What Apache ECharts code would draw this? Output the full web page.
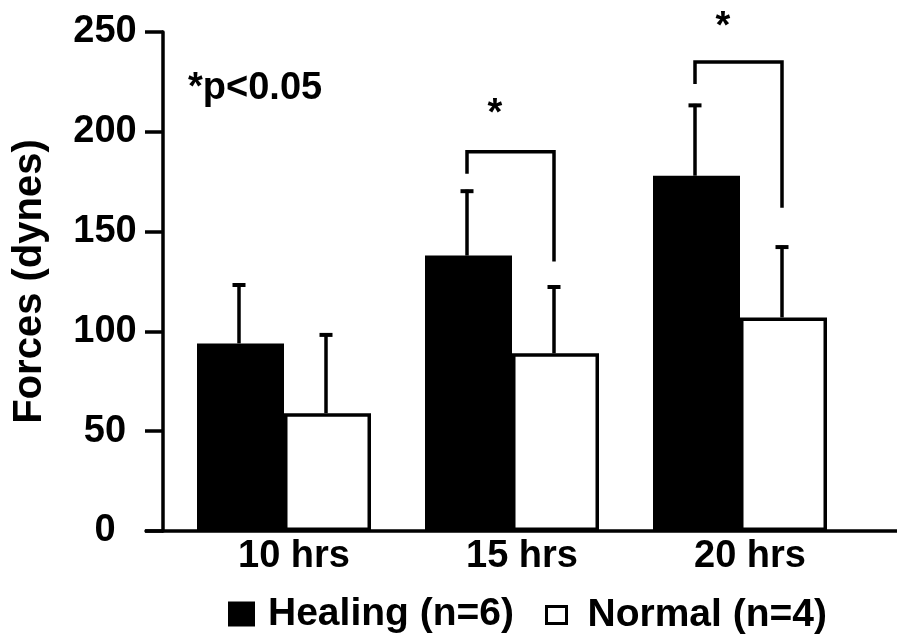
<!DOCTYPE html>
<html>
<head>
<meta charset="utf-8">
<script src="https://cdn.jsdelivr.net/npm/echarts@6/dist/echarts.min.js"></script>
<style>
html,body{margin:0;padding:0;background:#fff;}
#chart{width:897px;height:635px;}
</style>
</head>
<body>
<div id="chart"></div>
<script>
var categories = ['10 hrs', '15 hrs', '20 hrs'];
var healingMean = [94, 138, 178];
var healingUpper = [124, 171, 214];
var normalMean = [59, 89, 107];
var normalUpper = [99, 123, 143];
// bracket: [category index, left end value, top value, right end value]
var brackets = [[1, 179, 190, 135], [2, 224, 235, 162]];
// significance stars: [category index, value]
var stars = [[1, 212], [2, 256]];
var yTicks = { min: 0, max: 250, interval: 50 };

var FONT = 'Liberation Sans, Arial, sans-serif';
var HALF = 43.5; // half bar width (px)
var LW = 3.5;

var errData = [];
for (var i = 0; i < categories.length; i++) {
  errData.push([i, healingMean[i], healingUpper[i], -1]);
  errData.push([i, normalMean[i], normalUpper[i], 1]);
}

var chart = echarts.init(document.getElementById('chart'));
chart.setOption({
  animation: false,
  backgroundColor: '#fff',
  title: {
    text: '*p<0.05', left: 188, top: 70, padding: 0,
    textStyle: { fontFamily: FONT, fontSize: 38, fontWeight: 'bold', color: '#000' }
  },
  grid: [
    { left: 146, right: 0, top: 32, bottom: 104, containLabel: false },
    { left: 170, width: 684, top: 32, bottom: 104, containLabel: false }
  ],
  xAxis: [
    { type: 'value', gridIndex: 0, min: 0, max: 1,
      axisLine: { show: true, onZero: false, lineStyle: { color: '#000', width: LW } },
      axisTick: { show: false }, axisLabel: { show: false }, splitLine: { show: false } },
    { type: 'category', gridIndex: 1, data: categories,
      axisLine: { show: false }, axisTick: { show: false }, splitLine: { show: false },
      axisLabel: { fontFamily: FONT, fontSize: 38, fontWeight: 'bold', color: '#000',
        margin: 6, lineHeight: 40, padding: [0, 0, 0, 20] } }
  ],
  yAxis: [
    { type: 'value', gridIndex: 0, min: yTicks.min, max: yTicks.max, interval: yTicks.interval,
      offset: -17,
      name: 'Forces (dynes)', nameLocation: 'middle', nameGap: 113,
      nameTextStyle: { fontFamily: FONT, fontSize: 40, fontWeight: 'bold', color: '#000', lineHeight: 40 },
      axisLine: { show: true, lineStyle: { color: '#000', width: LW } },
      axisTick: { show: true, length: 18, lineStyle: { color: '#000', width: LW } },
      axisLabel: { fontFamily: FONT, fontSize: 38, fontWeight: 'bold', color: '#000',
        align: 'center', margin: 58, padding: [0, 0, 6, 0] },
      splitLine: { show: false } },
    { type: 'value', gridIndex: 1, min: yTicks.min, max: yTicks.max, interval: yTicks.interval, show: false }
  ],
  legend: [
    { data: ['Healing (n=6)'], left: 228, top: 594, padding: 0, itemWidth: 27, itemHeight: 25,
      icon: 'rect', selectedMode: false,
      itemStyle: { color: '#000', borderWidth: 0 },
      textStyle: { fontFamily: FONT, fontSize: 39, fontWeight: 'bold', color: '#000', lineHeight: 40, padding: [0, 0, 0, 8] } },
    { data: ['Normal (n=4)'], left: 545, top: 595, padding: 0, itemWidth: 20, itemHeight: 17,
      icon: 'rect', selectedMode: false,
      itemStyle: { color: '#fff', borderColor: '#000', borderWidth: 3 },
      textStyle: { fontFamily: FONT, fontSize: 39, fontWeight: 'bold', color: '#000', lineHeight: 40, padding: [0, 0, 0, 16] } }
  ],
  series: [
    { name: 'Healing (n=6)', type: 'bar', xAxisIndex: 1, yAxisIndex: 1, data: healingMean,
      barWidth: 2 * HALF, barGap: '0%',
      itemStyle: { color: '#000' } },
    { name: 'Normal (n=4)', type: 'bar', xAxisIndex: 1, yAxisIndex: 1, data: normalMean,
      barWidth: 2 * HALF, barGap: '0%',
      itemStyle: { color: '#fff', borderColor: '#000', borderWidth: LW } },
    { type: 'custom', xAxisIndex: 1, yAxisIndex: 1, data: errData, z: 5,
      renderItem: function (params, api) {
        var c = api.value(0);
        var base = api.coord([c, api.value(1)]);
        var top = api.coord([c, api.value(2)]);
        var x = base[0] + api.value(3) * HALF - 1.5;
        return { type: 'group', children: [
          { type: 'line', shape: { x1: x, y1: base[1], x2: x, y2: top[1] },
            style: { stroke: '#000', lineWidth: LW } },
          { type: 'line', shape: { x1: x - 6.5, y1: top[1] + 1.5, x2: x + 6.5, y2: top[1] + 1.5 },
            style: { stroke: '#000', lineWidth: 4 } }
        ] };
      } },
    { type: 'custom', xAxisIndex: 1, yAxisIndex: 1, data: brackets, z: 5,
      renderItem: function (params, api) {
        var c = api.value(0);
        var lb = api.coord([c, api.value(1)]);
        var tp = api.coord([c, api.value(2)]);
        var rb = api.coord([c, api.value(3)]);
        var xl = lb[0] - HALF - 1.5, xr = lb[0] + HALF - 1.5;
        return { type: 'polyline',
          shape: { points: [[xl, lb[1]], [xl, tp[1]], [xr, tp[1]], [xr, rb[1]]] },
          style: { stroke: '#000', lineWidth: LW, fill: null } };
      } },
    { type: 'custom', xAxisIndex: 1, yAxisIndex: 1, data: stars, z: 5, clip: false,
      renderItem: function (params, api) {
        var p = api.coord([api.value(0), api.value(1)]);
        return { type: 'text',
          style: { text: '*', x: p[0] - 17, y: p[1] + 7, align: 'center', verticalAlign: 'middle',
            font: 'bold 38px ' + FONT, fill: '#000' } };
      } }
  ]
});
</script>
</body>
</html>
